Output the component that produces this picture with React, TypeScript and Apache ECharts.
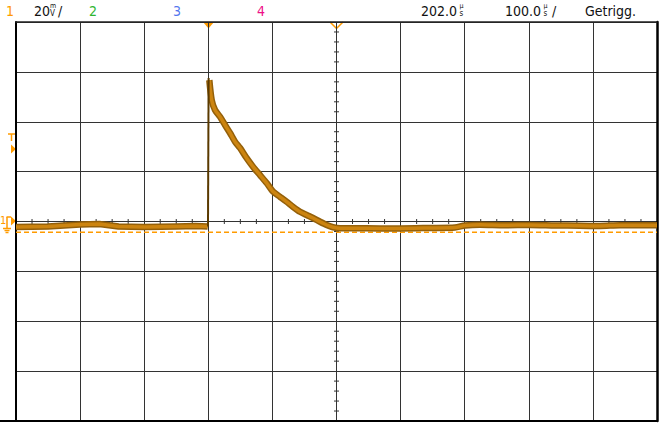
import React, { useEffect, useRef } from "react";
import * as echarts from "echarts";

// Time in µs relative to screen centre, voltage in mV (20 mV/div, 100 µs/div)
const TIME_PRE = [-500, -450, -400, -370, -340, -300, -250, -220, -201];
const VOLT_PRE = [-2.2, -2.0, -1.2, -1.0, -2.0, -2.2, -2.0, -1.8, -2.0];

const TIME_RISE = [-200.5, -199.5];
const VOLT_RISE = [-2.0, 57.5];

const TIME_POST = [
  -198.4, -194.7, -189.5, -181.7, -173.9, -166.1, -158.3, -150.5, -140.1, -130.3,
  -119.3, -108.9, -99.1, -88.1, -77.7, -67.9, -56.9, -46.5, -36.7, -25.7, -15.3,
  -5.5, 5.5, 25.7, 67.9, 99.1, 145.9, 184.9, 200.5, 223.9, 262.9, 301.9, 340.9,
  379.9, 411.1, 442.3, 500,
];
const VOLT_POST = [
  56.7, 48.7, 44.7, 42.0, 38.7, 35.5, 32.0, 29.5, 25.4, 22.0,
  18.6, 15.4, 12.0, 9.9, 7.9, 5.9, 3.9, 2.6, 1.4, -0.1, -1.4,
  -2.3, -2.7, -2.7, -2.8, -2.8, -2.6, -2.4, -1.6, -1.3, -1.5, -1.4, -1.6,
  -1.7, -1.8, -1.5, -1.5,
];

const REF_LEVEL = -4.3; // dashed orange line (mV)

const X_MIN = -500;
const X_MAX = 500;
const X_DIV = 100;
const Y_MIN = -80;
const Y_MAX = 80;
const Y_DIV = 20;

const HEADER_CH = ["1", "2", "3", "4"];

const ORANGE = "#ff9b00";
const FONT = '"Liberation Sans Narrow", "DejaVu Sans Condensed", "Roboto Condensed", "Liberation Sans", sans-serif';

const pair = (t: number[], v: number[]) => t.map((x, i) => [x, v[i]]);

export default function App() {
  const ref = useRef<HTMLDivElement>(null);

  useEffect(() => {
    if (!ref.current) return;
    document.body.style.margin = "0";
    const chart = echarts.init(ref.current, null, { renderer: "svg" });

    const xTicks: number[][] = [];
    for (let t = X_MIN; t <= X_MAX; t += X_DIV / 4) if (t % X_DIV !== 0) xTicks.push([t, 0, 0]);
    const yTicks: number[][] = [];
    for (let v = Y_MIN; v <= Y_MAX; v += Y_DIV / 5) if (Math.abs(v % Y_DIV) > 1e-6) yTicks.push([0, v, 1]);
    const ticks = [...xTicks, ...yTicks];

    const text = (t: string, x: number, y: number, fill: string, size = 14) => ({
      type: "text",
      x,
      y,
      silent: true,
      style: {
        text: t, fill, fontSize: size, lineHeight: size, fontFamily: FONT,
        textAlign: "left", textVerticalAlign: "middle",
      },
    });
    const ln = (x1: number, y1: number, x2: number, y2: number, color = ORANGE, w = 1.5) => ({
      type: "line",
      silent: true,
      shape: { x1, y1, x2, y2 },
      style: { stroke: color, lineWidth: w },
    });

    const chColors = [ORANGE, "#2fb52f", "#5577ee", "#ee1188"];
    const chX = [6, 89, 173, 257];

    chart.setOption({
      animation: false,
      backgroundColor: "#ffffff",
      grid: { left: 16, right: 3, top: 22, bottom: 10, containLabel: false },
      xAxis: [
        {
          type: "value", min: X_MIN, max: X_MAX, interval: X_DIV, position: "bottom",
          axisLine: { show: true, onZero: false, lineStyle: { color: "#000", width: 2 } },
          axisTick: { show: false }, axisLabel: { show: false },
          splitLine: { show: true, lineStyle: { color: "#333", width: 1 } },
        },
        {
          type: "value", min: X_MIN, max: X_MAX, interval: X_DIV, position: "top",
          axisLine: { show: true, onZero: false, lineStyle: { color: "#222", width: 1.5 } },
          axisTick: { show: false }, axisLabel: { show: false }, splitLine: { show: false },
        },
      ],
      yAxis: [
        {
          type: "value", min: Y_MIN, max: Y_MAX, interval: Y_DIV, position: "left",
          axisLine: { show: true, onZero: false, lineStyle: { color: "#000", width: 2 } },
          axisTick: { show: false }, axisLabel: { show: false },
          splitLine: { show: true, lineStyle: { color: "#333", width: 1 } },
        },
        {
          type: "value", min: Y_MIN, max: Y_MAX, interval: Y_DIV, position: "right",
          axisLine: { show: true, onZero: false, lineStyle: { color: "#000", width: 2.5 } },
          axisTick: { show: false }, axisLabel: { show: false }, splitLine: { show: false },
        },
      ],
      series: [
        {
          type: "custom",
          silent: true,
          z: 1,
          data: ticks,
          renderItem: (params: any, api: any) => {
            const p = api.coord([api.value(0), api.value(1)]);
            const vertical = api.value(2) === 0;
            return {
              type: "line",
              shape: vertical
                ? { x1: p[0], y1: p[1] - 2.5, x2: p[0], y2: p[1] + 2.5 }
                : { x1: p[0] - 2.5, y1: p[1], x2: p[0] + 2.5, y2: p[1] },
              style: { stroke: "#333", lineWidth: 1 },
            };
          },
        },
        {
          type: "line", silent: true, z: 2, symbol: "none",
          data: [[X_MIN, REF_LEVEL], [X_MAX, REF_LEVEL]],
          lineStyle: { color: ORANGE, width: 1.5, type: [5, 3] },
        },
        ...[
          { d: pair(TIME_PRE, VOLT_PRE), smooth: 0 },
          { d: pair(TIME_POST, VOLT_POST), smooth: 0.25 },
        ].flatMap((s) => [
          { type: "line", silent: true, z: 3, symbol: "none", smooth: s.smooth, data: s.d, lineStyle: { color: "#94600a", width: 6.5, join: "round" } },
          { type: "line", silent: true, z: 4, symbol: "none", smooth: s.smooth, data: s.d, lineStyle: { color: "#cc8410", width: 3.5, join: "round" } },
        ]),
        {
          type: "line", silent: true, z: 5, symbol: "none",
          data: pair(TIME_RISE, VOLT_RISE),
          lineStyle: { color: "#5a3a00", width: 2 },
        },
      ],
      graphic: [
        ...HEADER_CH.map((c, i) => text(c, chX[i], 11, chColors[i])),
        text("20", 34, 11, "#111"),
        text("m", 50, 5.5, "#111", 7),
        text("V", 50, 13.5, "#111", 8),
        text("/", 58, 11, "#111"),
        text("202.0", 421, 11, "#111"),
        text("µ", 459.5, 5.5, "#111", 7),
        text("s", 459.5, 13.5, "#111", 8),
        text("100.0", 505, 11, "#111"),
        text("µ", 543.5, 5.5, "#111", 7),
        text("s", 543.5, 13.5, "#111", 8),
        text("/", 552, 11, "#111"),
        text("Getrigg.", 585, 11, "#111"),
        // trigger position marker (filled)
        { type: "polygon", silent: true, shape: { points: [[203, 22], [214, 22], [208.5, 28.5]] }, style: { fill: ORANGE } },
        // centre / delay marker (hollow)
        { type: "polyline", silent: true, shape: { points: [[330, 22], [336.5, 28.5], [343, 22]] }, style: { stroke: ORANGE, lineWidth: 1.5, fill: "none" } },
        // bottom border extension
        ln(0, 421, 17, 421, "#000", 2),
        // trigger level marker "T"
        ln(8, 134, 15, 134),
        ln(11.5, 134, 11.5, 141),
        { type: "polygon", silent: true, shape: { points: [[11, 144.5], [16, 149], [11, 153.5]] }, style: { fill: ORANGE } },
        // channel 1 ground marker
        text("1", 0, 220, ORANGE, 11),
        ln(6.5, 217, 11, 217),
        ln(7, 217, 7, 228),
        ln(3, 228.5, 11, 228.5),
        ln(4.5, 230.5, 9.5, 230.5),
        ln(5.5, 232.5, 8.5, 232.5),
        { type: "polygon", silent: true, shape: { points: [[11, 216.5], [16, 221], [11, 225.5]] }, style: { fill: ORANGE } },
      ],
    });

    return () => chart.dispose();
  }, []);

  return <div ref={ref} style={{ position: "fixed", left: 0, top: 0, width: 660, height: 431 }} />;
}
